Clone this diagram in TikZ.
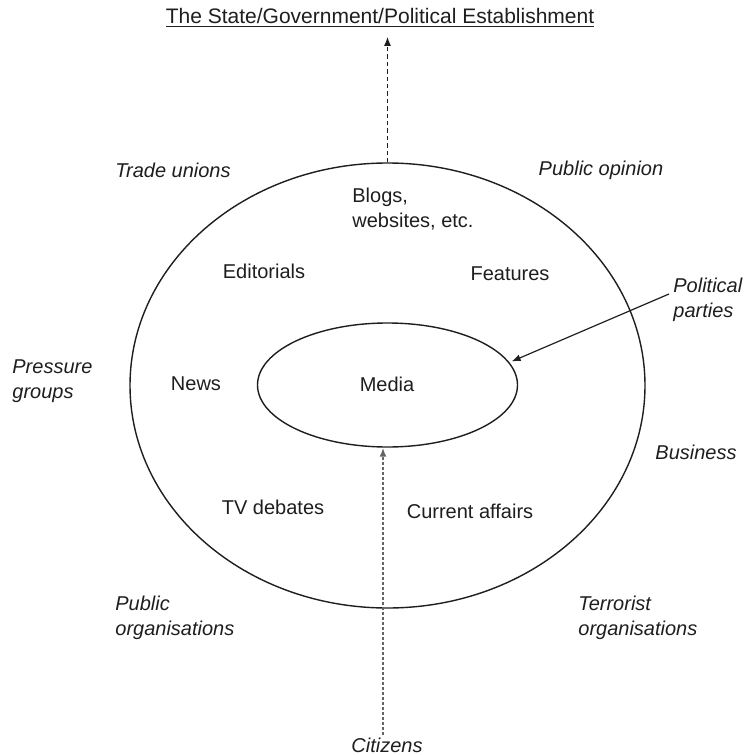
\documentclass[tikz,border=0pt]{standalone}
\usepackage{fontspec}
\setmainfont{Liberation Sans}
\usetikzlibrary{arrows.meta, shapes.geometric}
\definecolor{inkclr}  {RGB}{30, 30, 30}
\definecolor{dotclr}  {RGB}{100, 100, 100}

\begin{document}
\begin{tikzpicture}[x=0.5pt, y=-0.5pt, font=\fontsize{10}{12.5}\selectfont, inkclr,
    ring/.style={draw=inkclr, line width=0.7pt, ellipse, inner sep=0pt},
    actor/.style={font=\fontsize{10}{12.5}\selectfont\itshape, align=left, inner sep=1pt},
    outlet/.style={align=left, inner sep=1pt},
    tip/.style={-{Latex[length=4.5pt, width=3.5pt]}}]
  \useasboundingbox (0,0) rectangle (748,755);
  % title
  \node[font=\fontsize{10.5}{12.5}\selectfont] (state) at (380,18)
    {\underline{The State/Government/Political Establishment}};
  % the two rings
  \node[ring, minimum width=257.5pt, minimum height=222.5pt] (outer) at (387.5,385.5) {};
  \node[ring, minimum width=130pt, minimum height=62pt] (media) at (387.5,385) {};
  \node (medialbl) at (387,384) {Media};
  % outlets inside the big ring
  \node[outlet, anchor=west] (blogs) at (350,209) {Blogs,\\websites, etc.};
  \node[outlet] (editorials) at (264,271) {Editorials};
  \node[outlet] (features) at (510,274) {Features};
  \node[outlet] (news) at (196,384) {News};
  \node[outlet] (tv) at (273,507) {TV debates};
  \node[outlet] (current) at (470,511) {Current affairs};
  % actors around the ring
  \node[actor] (unions) at (173,170) {Trade unions};
  \node[actor] (opinion) at (601,170) {Public opinion};
  \node[actor, anchor=west] (parties) at (671,300) {Political\\parties};
  \node[actor, anchor=west] (pressure) at (10,381) {Pressure\\groups};
  \node[actor] (business) at (696,452) {Business};
  \node[actor, anchor=west] (publicorg) at (113,618) {Public\\organisations};
  \node[actor, anchor=west] (terror) at (576,618) {Terrorist\\organisations};
  \node[actor] (citizens) at (387,745) {Citizens};
  % connectors
  \draw[tip, line width=0.7pt, dash pattern=on 2.2pt off 1.5pt]
    (outer.north) -- ([yshift=-1pt]outer.north |- state.south);
  \draw[tip, line width=0.6pt] ([xshift=-1pt, yshift=3pt]parties.west) -- ([xshift=1.5pt]media.11);
  \draw[tip, dotclr, line width=1.1pt, dash pattern=on 1.5pt off 1pt]
    ([xshift=-2pt]citizens.north) -- ([xshift=-2pt]citizens.north |- media.south);
\end{tikzpicture}
\end{document}
